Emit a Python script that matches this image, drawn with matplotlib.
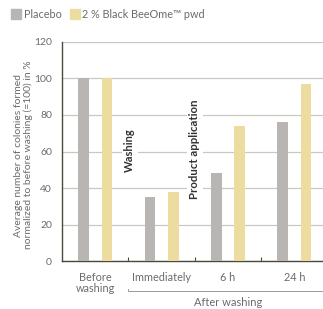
import numpy as np
import matplotlib.pyplot as plt

# data
groups = ['Before\nwashing', 'Immediately', '6 h', '24 h']
placebo = [100, 35, 48, 76]
beeome = [100, 38, 74, 97]
series_names = ['Placebo', '2 % Black BeeOme\u2122 pwd']
yticks = [0, 20, 40, 60, 80, 100, 120]

c_placebo = '#b9b5b2'
c_beeome = '#eddc9f'
c_text = '#6b6b6b'
c_spine = '#4a4a3c'

plt.rcParams['font.family'] = ['Lato', 'DejaVu Sans']

fig = plt.figure(figsize=(3.23, 3.09), dpi=100)
ax = fig.add_axes([0.191, 0.1544, 0.809, 0.7106])

x = np.arange(len(groups))
w = 0.161
off = 0.176
ax.bar(x - off, placebo, w, color=c_placebo, zorder=3)
ax.bar(x + off, beeome, w, color=c_beeome, zorder=3)

ax.set_xlim(-0.506, 3.43)
ax.set_ylim(0, 120)
ax.set_yticks(yticks)
ax.yaxis.grid(True, color='#c9c9c4', lw=0.9, zorder=0)
ax.set_axisbelow(True)
ax.tick_params(axis='y', length=0, labelsize=7.5, labelcolor=c_text, pad=7)

# group separators as small inward ticks
ax.set_xticks(x[:-1] + 0.5)
ax.set_xticklabels([])
ax.tick_params(axis='x', direction='in', length=3, width=0.8, color=c_spine)
for xi, g in zip(x, groups):
    ax.text(xi, -6, g, ha='center', va='top', fontsize=7.8, color=c_text,
            linespacing=1.0)

for s in ['top', 'right']:
    ax.spines[s].set_visible(False)
for s in ['left', 'bottom']:
    ax.spines[s].set_color(c_spine)
    ax.spines[s].set_linewidth(1.0)

ax.set_ylabel('Average number of colonies formed\nnormalized to before washing (=100) in %',
              fontsize=7.5, color=c_text, linespacing=1.0)
ax.yaxis.set_label_coords(-0.11, 0.484)

# annotations inside the plot
box = dict(facecolor='white', edgecolor='none', pad=2)
ax.text(0.52, 61, 'Washing', rotation=90, ha='center', va='center',
        fontsize=8, fontweight='bold', color='#333333', bbox=box, zorder=2)
ax.text(1.50, 61, 'Product application', rotation=90, ha='center', va='center',
        fontsize=8.2, fontweight='bold', color='#333333', bbox=box, zorder=2)

# "After washing" bracket
yb = -16.5
ax.plot([0.5, 0.5, 3.43], [yb + 1.6, yb, yb], color='#9a9a9a', lw=0.7,
        clip_on=False)
ax.text(2.0, -19.5, 'After washing', ha='center', va='top', fontsize=8,
        color=c_text)

# legend
lx = [11 / 323, 70 / 323]
for pos, name, col in zip(lx, series_names, [c_placebo, c_beeome]):
    fig.patches.append(plt.Rectangle((pos, 1 - 19 / 309), 10 / 323, 10 / 309,
                                     transform=fig.transFigure, color=col))
    fig.text(pos + 12.5 / 323, 1 - 14.5 / 309, name, fontsize=7.8,
             color=c_text, va='center', ha='left')

fig.savefig('out.png', dpi=100)
